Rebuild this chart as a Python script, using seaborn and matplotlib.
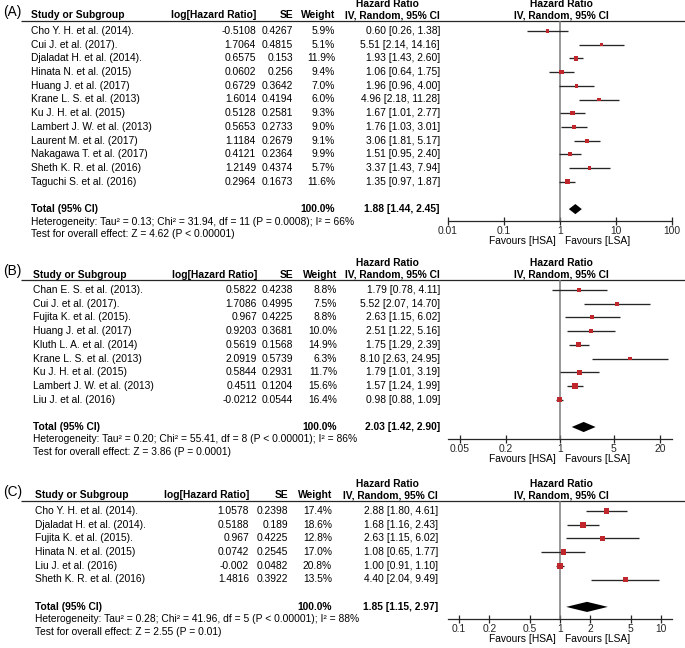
import numpy as np
import pandas as pd
import matplotlib
matplotlib.use("Agg")
import matplotlib.pyplot as plt
from matplotlib.ticker import NullLocator
import seaborn as sns

# ---------------- Data ----------------
# Panel A
a_names = ["Cho Y. H. et al. (2014).", "Cui J. et al. (2017).", "Djaladat H. et al. (2014).",
           "Hinata N. et al. (2015)", "Huang J. et al. (2017)", "Krane L. S. et al. (2013)",
           "Ku J. H. et al. (2015)", "Lambert J. W. et al. (2013)", "Laurent M. et al. (2017)",
           "Nakagawa T. et al. (2017)", "Sheth K. R. et al. (2016)", "Taguchi S. et al. (2016)"]
a_loghr = [-0.5108, 1.7064, 0.6575, 0.0602, 0.6729, 1.6014, 0.5128, 0.5653, 1.1184, 0.4121, 1.2149, 0.2964]
a_se = [0.4267, 0.4815, 0.153, 0.256, 0.3642, 0.4194, 0.2581, 0.2733, 0.2679, 0.2364, 0.4374, 0.1673]
a_weight = [5.9, 5.1, 11.9, 9.4, 7.0, 6.0, 9.3, 9.0, 9.1, 9.9, 5.7, 11.6]
a_hr = [0.60, 5.51, 1.93, 1.06, 1.96, 4.96, 1.67, 1.76, 3.06, 1.51, 3.37, 1.35]
a_lo = [0.26, 2.14, 1.43, 0.64, 0.96, 2.18, 1.01, 1.03, 1.81, 0.95, 1.43, 0.97]
a_hi = [1.38, 14.16, 2.60, 1.75, 4.00, 11.28, 2.77, 3.01, 5.17, 2.40, 7.94, 1.87]
a_total = [1.88, 1.44, 2.45]
a_het = "Heterogeneity: Tau² = 0.13; Chi² = 31.94, df = 11 (P = 0.0008); I² = 66%"
a_test = "Test for overall effect: Z = 4.62 (P < 0.00001)"
a_ticks = [0.01, 0.1, 1, 10, 100]
a_ticklabels = ["0.01", "0.1", "1", "10", "100"]

# Panel B
b_names = ["Chan E. S. et al. (2013).", "Cui J. et al. (2017).", "Fujita K. et al. (2015).",
           "Huang J. et al. (2017)", "Kluth L. A. et al. (2014)", "Krane L. S. et al. (2013)",
           "Ku J. H. et al. (2015)", "Lambert J. W. et al. (2013)", "Liu J. et al. (2016)"]
b_loghr = [0.5822, 1.7086, 0.967, 0.9203, 0.5619, 2.0919, 0.5844, 0.4511, -0.0212]
b_se = [0.4238, 0.4995, 0.4225, 0.3681, 0.1568, 0.5739, 0.2931, 0.1204, 0.0544]
b_weight = [8.8, 7.5, 8.8, 10.0, 14.9, 6.3, 11.7, 15.6, 16.4]
b_hr = [1.79, 5.52, 2.63, 2.51, 1.75, 8.10, 1.79, 1.57, 0.98]
b_lo = [0.78, 2.07, 1.15, 1.22, 1.29, 2.63, 1.01, 1.24, 0.88]
b_hi = [4.11, 14.70, 6.02, 5.16, 2.39, 24.95, 3.19, 1.99, 1.09]
b_total = [2.03, 1.42, 2.90]
b_het = "Heterogeneity: Tau² = 0.20; Chi² = 55.41, df = 8 (P < 0.00001); I² = 86%"
b_test = "Test for overall effect: Z = 3.86 (P = 0.0001)"
b_ticks = [0.05, 0.2, 1, 5, 20]
b_ticklabels = ["0.05", "0.2", "1", "5", "20"]

# Panel C
c_names = ["Cho Y. H. et al. (2014).", "Djaladat H. et al. (2014).", "Fujita K. et al. (2015).",
           "Hinata N. et al. (2015)", "Liu J. et al. (2016)", "Sheth K. R. et al. (2016)"]
c_loghr = [1.0578, 0.5188, 0.967, 0.0742, -0.002, 1.4816]
c_se = [0.2398, 0.189, 0.4225, 0.2545, 0.0482, 0.3922]
c_weight = [17.4, 18.6, 12.8, 17.0, 20.8, 13.5]
c_hr = [2.88, 1.68, 2.63, 1.08, 1.00, 4.40]
c_lo = [1.80, 1.16, 1.15, 0.65, 0.91, 2.04]
c_hi = [4.61, 2.43, 6.02, 1.77, 1.10, 9.49]
c_total = [1.85, 1.15, 2.97]
c_het = "Heterogeneity: Tau² = 0.28; Chi² = 41.96, df = 5 (P < 0.00001); I² = 88%"
c_test = "Test for overall effect: Z = 2.55 (P = 0.01)"
c_ticks = [0.1, 0.2, 0.5, 1, 2, 5, 10]
c_ticklabels = ["0.1", "0.2", "0.5", "1", "2", "5", "10"]

# ---------------- Style ----------------
sns.set_theme(style="white")
plt.rcParams['font.family'] = ['Liberation Sans', 'DejaVu Sans']
plt.rcParams['text.color'] = 'black'

W, H = 685, 648
FS = 7.4
ROW = 13.7
RED = "#c0272d"
LINE = "#262626"

fig = plt.figure(figsize=(W / 100, H / 100), dpi=100)
fig.patch.set_facecolor('white')
bg = fig.add_axes([0, 0, 1, 1])
bg.set_xlim(0, W)
bg.set_ylim(H, 0)
bg.axis('off')


def txt(x, y, s, ha='left', bold=False, va='center', fs=FS):
    bg.text(x, y, s, ha=ha, va=va, fontsize=fs,
            fontweight='bold' if bold else 'normal', color='black')


def panel(label, first_row, cols, names, loghr, se, weight, hr, lo, hi,
          total, het, test, ticks, ticklabels, xlim):
    n = len(names)
    x_name, x_log, x_se, x_w, x_ci = cols
    header_y = first_row - 10
    total_y = first_row + (n + 1) * ROW
    axis_y = total_y + 12
    hb = header_y - 2.5

    txt(3, header_y - 9, label, fs=9.8)
    txt(x_name, hb, "Study or Subgroup", bold=True, va='baseline')
    txt(x_log, hb, "log[Hazard Ratio]", ha='right', bold=True, va='baseline')
    txt(x_se, hb, "SE", ha='right', bold=True, va='baseline')
    txt(x_w, hb, "Weight", ha='right', bold=True, va='baseline')
    txt(387, header_y - 14, "Hazard Ratio", ha='center', bold=True, va='baseline')
    txt(x_ci, hb, "IV, Random, 95% CI", ha='right', bold=True, va='baseline')
    txt(561, header_y - 14, "Hazard Ratio", ha='center', bold=True, va='baseline')
    txt(561, hb, "IV, Random, 95% CI", ha='center', bold=True, va='baseline')
    bg.plot([21, W], [header_y, header_y], color=LINE, lw=0.9, solid_capstyle='butt')

    for i in range(n):
        y = first_row + i * ROW
        txt(x_name, y, names[i])
        txt(x_log, y, str(loghr[i]), ha='right')
        txt(x_se, y, str(se[i]), ha='right')
        txt(x_w, y, f"{weight[i]:.1f}%", ha='right')
        txt(x_ci, y, f"{hr[i]:.2f} [{lo[i]:.2f}, {hi[i]:.2f}]", ha='right')

    txt(x_name, total_y, "Total (95% CI)", bold=True)
    txt(x_w, total_y, "100.0%", ha='right', bold=True)
    txt(x_ci, total_y, f"{total[0]:.2f} [{total[1]:.2f}, {total[2]:.2f}]", ha='right', bold=True)
    txt(x_name, total_y + 12.5, het)
    txt(x_name, total_y + 25, test)
    txt(556, axis_y + 20, "Favours [HSA]", ha='right')
    txt(565, axis_y + 20, "Favours [LSA]", ha='left')

    # forest axes
    top, bottom = header_y, axis_y
    ax = fig.add_axes([448 / W, 1 - bottom / H, 224 / W, (bottom - top) / H])
    ax.patch.set_alpha(0)
    ax.set_xscale('log')
    df = pd.DataFrame(dict(row=np.arange(n), hr=hr, lo=lo, hi=hi, w=weight))
    ax.axvline(1, color='#7a7a7a', lw=1.1, zorder=1)
    ax.hlines(df['row'], df['lo'], df['hi'], color=LINE, lw=0.95, zorder=2)
    sns.scatterplot(data=df, x='hr', y='row', size='w', sizes=(0, 24), size_norm=(0, 25),
                    marker='s', color=RED, linewidth=0, legend=False, ax=ax, zorder=3)
    ty = n + 1
    hh = 0.37
    ax.fill([total[1], total[0], total[2], total[0]], [ty, ty - hh, ty, ty + hh],
            color='black', lw=0, zorder=3)
    ax.set_xlim(*xlim)
    ax.set_ylim(n + 1 + 12 / ROW, -10 / ROW)
    for s in ['top', 'left', 'right']:
        ax.spines[s].set_visible(False)
    ax.spines['bottom'].set_color(LINE)
    ax.spines['bottom'].set_linewidth(0.9)
    ax.set_xticks(ticks)
    ax.set_xticklabels(ticklabels)
    ax.xaxis.set_minor_locator(NullLocator())
    ax.set_yticks([])
    ax.tick_params(axis='x', direction='inout', length=6, width=0.9, color=LINE,
                   labelsize=FS, pad=0.8, bottom=True)
    ax.set_xlabel('')
    ax.set_ylabel('')
    return ax


panel("(A)", 31, (31, 256, 293, 335, 440), a_names, a_loghr, a_se, a_weight, a_hr, a_lo, a_hi,
      a_total, a_het, a_test, a_ticks, a_ticklabels, (0.01, 100))
panel("(B)", 290, (33, 257, 293, 337, 440), b_names, b_loghr, b_se, b_weight, b_hr, b_lo, b_hi,
      b_total, b_het, b_test, b_ticks, b_ticklabels, (1 / 28.5, 28.5))
panel("(C)", 511, (35, 249, 288, 332, 438), c_names, c_loghr, c_se, c_weight, c_hr, c_lo, c_hi,
      c_total, c_het, c_test, c_ticks, c_ticklabels, (1 / 12.8, 12.8))

fig.savefig("out.png", dpi=100, facecolor='white')
